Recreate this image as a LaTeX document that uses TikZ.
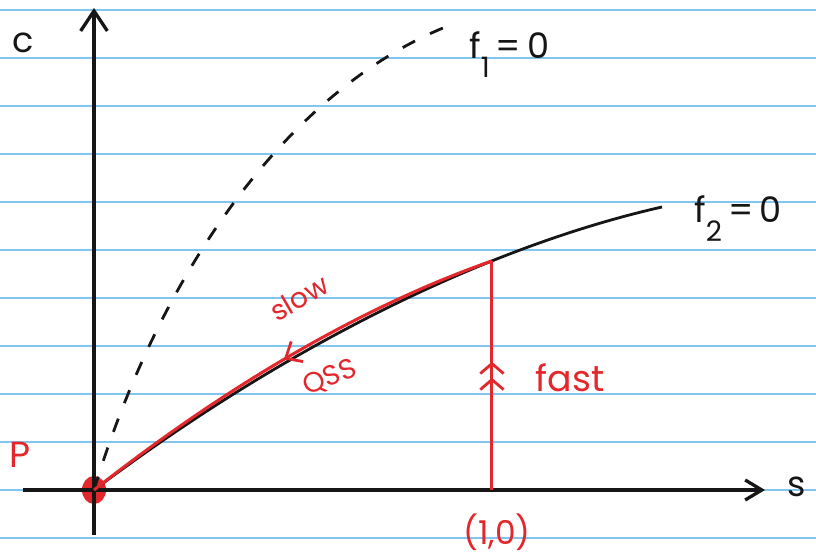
\documentclass[tikz,border=0pt]{standalone}
\usepackage{fontspec}
\setmainfont{Poppins}
\usepackage{tikz}
\usetikzlibrary{arrows.meta, shapes.geometric, decorations.markings}
\definecolor{inkred}{RGB}{226,40,44}
\definecolor{inkdark}{RGB}{22,22,22}
\definecolor{ruleblue}{RGB}{128,198,238}
\newcommand{\lowsub}[1]{\raisebox{-0.95ex}{\fontsize{24}{24}\selectfont #1}}
\tikzset{
  ruling/.style={ruleblue, line width=1.8pt},
  axis/.style={inkdark, line width=2.8pt},
  nullcline/.style={inkdark, line width=2.4pt},
  redline/.style={inkred, line width=2.6pt},
  pdot/.style={ellipse, fill=inkred, minimum width=0.72cm, minimum height=0.84cm, inner sep=0pt},
  lbl/.style={inner sep=1pt, font=\fontsize{30}{30}\selectfont, text=inkdark},
  redlbl/.style={inner sep=1pt, font=\fontsize{31}{31}\selectfont, text=inkred},
  smalllbl/.style={inner sep=1pt, font=\fontsize{24}{24}\selectfont, text=inkred},
  fastmarks/.style={postaction={decorate}, decoration={markings,
      mark=at position 0.49 with {\arrow[inkred, line width=2.4pt]{Straight Barb[length=3mm, width=7mm]}},
      mark=at position 0.56 with {\arrow[inkred, line width=2.4pt]{Straight Barb[length=3mm, width=7mm]}}}},
  slowmark/.style={postaction={decorate}, decoration={markings,
      mark=at position 0.5 with {\arrow[inkred, line width=2.4pt]{Straight Barb[length=4mm, width=7mm]}}}}
}
\begin{document}
\begin{tikzpicture}[x=0.03cm, y=0.03cm]
  \useasboundingbox (-94,-66) rectangle (722,490);
  % ruled paper
  \foreach \k in {-1,...,10}
    \draw[ruling] (-94,48*\k) -- (722,48*\k);

  % equilibrium
  \coordinate (O) at (0,0);
  \node[pdot] (P) at (O) {};

  % axes
  \coordinate (xa) at (-71,0);
  \coordinate (xb) at (671,0);
  \coordinate (ya) at (0,-45);
  \coordinate (yb) at (0,482);
  \draw[axis, -{Straight Barb[length=5mm, width=6mm]}] (xa) -- (xb);
  \draw[axis, -{Straight Barb[length=6mm, width=8mm]}] (ya) -- (yb);
  \node[lbl] (clbl) at (-71,447) {c};
  \node[lbl] (slbl) at (703,3) {s};
  \node[redlbl] (plbl) at (-74,35) {P};

  % nullclines
  \draw[nullcline, dash pattern=on 0.42cm off 0.5cm] (O) .. controls (70,230) and (200,400) .. (349,462) coordinate (f1end);
  \draw[nullcline] (O) .. controls (200,150) and (400,245) .. (568,283) coordinate[pos=0.68] (Q) coordinate (f2end);
  \node[lbl, anchor=base west] (f1lbl) at (374,431) {f\lowsub{1}\,=\,0};
  \node[lbl, anchor=base west] (f2lbl) at (599,267) {f\lowsub{2}\,=\,0};

  % fast jump, then slow QSS motion
  \coordinate (one) at (Q |- O);
  \draw[redline, fastmarks] (one) -- (Q);
  \draw[redline, slowmark] (Q) .. controls (272,185) and (136,107) .. (O);
  \node[redlbl] (fastlbl) at (476,112) {fast};
  \node[smalllbl, rotate=30] (slowlbl) at (205,192) {slow};
  \node[smalllbl, rotate=22] (qsslbl) at (236,112) {QSS};
  \node[redlbl, font=\fontsize{28}{28}\selectfont] (onelbl) at (403,-42) {(1,0)};
\end{tikzpicture}
\end{document}
